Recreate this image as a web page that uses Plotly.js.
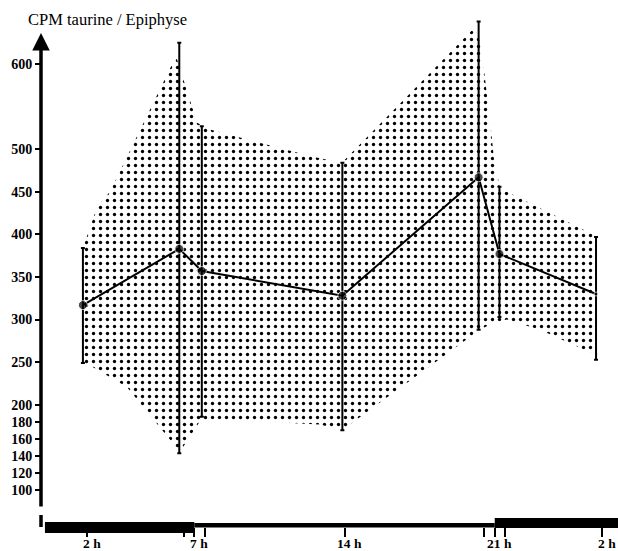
<!DOCTYPE html>
<html>
<head>
<meta charset="utf-8">
<script src="https://cdn.plot.ly/plotly-3.0.1.min.js"></script>
<style>html,body{margin:0;padding:0;background:#fff;}#chart{width:618px;height:551px;}</style>
</head>
<body>
<div id="chart"></div>
<script>
// ---- data (hours of day, CPM taurine per epiphysis) ----
const sampleHours = [1.81, 6.3, 7.35, 13.9, 20.25, 21.22, 25.72];
const cpmMean     = [317, 383, 357, 328, 467, 377, 330];
const errPlus     = [67, 242, 170, 156, 183, 79, 67];
const errMinus    = [68, 240, 171, 158, 179, 74, 77];

// hand-drawn shaded envelope
const bandUpperH = [1.81, 2.47, 3.07, 6.15, 7.13, 7.73, 12.53, 13.88, 20.08, 20.36, 20.78, 20.97, 21.25, 25.72];
const bandUpperV = [384, 432, 450, 609, 531, 523, 491, 484, 643, 622, 534, 487, 454, 398];
const bandLowerH = [1.81, 2.28, 3.86, 6.33, 7.27, 7.96, 12.86, 13.88, 20.31, 20.92, 21.57, 23.11, 25.77];
const bandLowerV = [249, 244, 221, 145, 181, 183, 177, 170, 288, 296, 300, 288, 258];

// axis ticks
const xTickHours = [2, 6.5, 7, 7.5, 14, 20.5, 21, 21.5, 26];
const xLabelHours = [2, 7, 14, 21, 26];
const xLabelText  = ['2 h', '7 h', '14 h', '21 h', '2 h'];
const yTickVals  = [100, 120, 140, 160, 180, 200, 250, 300, 350, 400, 450, 500, 600];

// light / dark schedule (dark bar on time axis)
const lightsOn = 7, lightsOff = 21;

const xRange = [-0.1435, 26.744];
const yRange = [56.57, 657.5];

const bandX = bandUpperH.concat(bandLowerH.slice().reverse());
const bandY = bandUpperV.concat(bandLowerV.slice().reverse());

const band = {
  x: bandX, y: bandY, type: 'scatter', mode: 'lines', fill: 'toself',
  line: {width: 0, color: 'rgba(0,0,0,0)'},
  fillcolor: '#ffffff',
  fillpattern: {shape: '.', size: 7, solidity: 0.18, fgcolor: '#000', bgcolor: '#ffffff'},
  hoverinfo: 'skip'
};

const main = {
  x: sampleHours, y: cpmMean, type: 'scatter', mode: 'lines+markers',
  line: {color: '#000', width: 2},
  marker: {color: '#000', size: [9, 9, 9, 9, 9, 9, 4]},
  error_y: {type: 'data', symmetric: false, array: errPlus, arrayminus: errMinus,
            color: '#000', thickness: 2, width: 2}
};

const serif = 'Liberation Serif, Times New Roman, serif';

const xLabelAnns = xLabelHours.map((h, i) => ({
  xref: 'x', yref: 'paper', x: h, y: -0.0315, xshift: 5, xanchor: 'center', yanchor: 'middle',
  text: '<b>' + xLabelText[i] + '</b>', showarrow: false, borderpad: 0,
  font: {family: serif, size: 13.5, color: '#000'}
}));

const layout = {
  width: 618, height: 551,
  margin: {l: 41, r: 0, t: 15, b: 24, pad: 0},
  paper_bgcolor: '#fff', plot_bgcolor: '#fff',
  showlegend: false,
  xaxis: {
    range: xRange, tickmode: 'array', tickvals: xTickHours, showticklabels: false,
    ticks: 'outside', ticklen: 9, tickwidth: 2, tickcolor: '#000',
    showgrid: false, zeroline: false, showline: false
  },
  yaxis: {
    range: yRange, tickmode: 'array', tickvals: yTickVals,
    ticktext: yTickVals.map(v => '<b>' + v + '</b>'),
    ticks: 'outside', ticklen: 5, tickwidth: 2, tickcolor: '#000',
    showgrid: false, zeroline: false, showline: false,
    tickfont: {family: serif, size: 14, color: '#000'}
  },
  shapes: [
    // night bar (left)
    {type: 'rect', xref: 'x', yref: 'paper', x0: 0.04, x1: lightsOn, y0: -0.0117, y1: 0.0098,
     fillcolor: '#000', line: {width: 0}},
    // day thin line
    {type: 'rect', xref: 'x', yref: 'paper', x0: lightsOn, x1: lightsOff, y0: -0.001, y1: 0.0078,
     fillcolor: '#000', line: {width: 0}},
    // night bar (right)
    {type: 'rect', xref: 'x', yref: 'paper', x0: lightsOff, x1: xRange[1], y0: -0.002, y1: 0.0176,
     fillcolor: '#000', line: {width: 0}},
    // lower stub of y axis (below the break)
    {type: 'line', xref: 'paper', yref: 'paper', x0: 0, x1: 0, y0: 0, y1: 0.0234,
     line: {color: '#000', width: 3.5}}
  ],
  annotations: [
    // y axis with arrow
    {xref: 'paper', yref: 'paper', x: 0, y: 0.9648, ax: 0, ay: 475, axref: 'pixel', ayref: 'pixel',
     text: '', showarrow: true, arrowhead: 2, arrowsize: 1, arrowwidth: 3.5, arrowcolor: '#000', standoff: 0},
    {xref: 'paper', yref: 'paper', x: -0.026, y: 0.992, xanchor: 'left', yanchor: 'middle',
     text: 'CPM taurine / Epiphyse', showarrow: false,
     font: {family: serif, size: 16.5, color: '#000'}}
  ].concat(xLabelAnns)
};

Plotly.newPlot('chart', [band, main], layout, {displayModeBar: false, staticPlot: true});
</script>
</body>
</html>
